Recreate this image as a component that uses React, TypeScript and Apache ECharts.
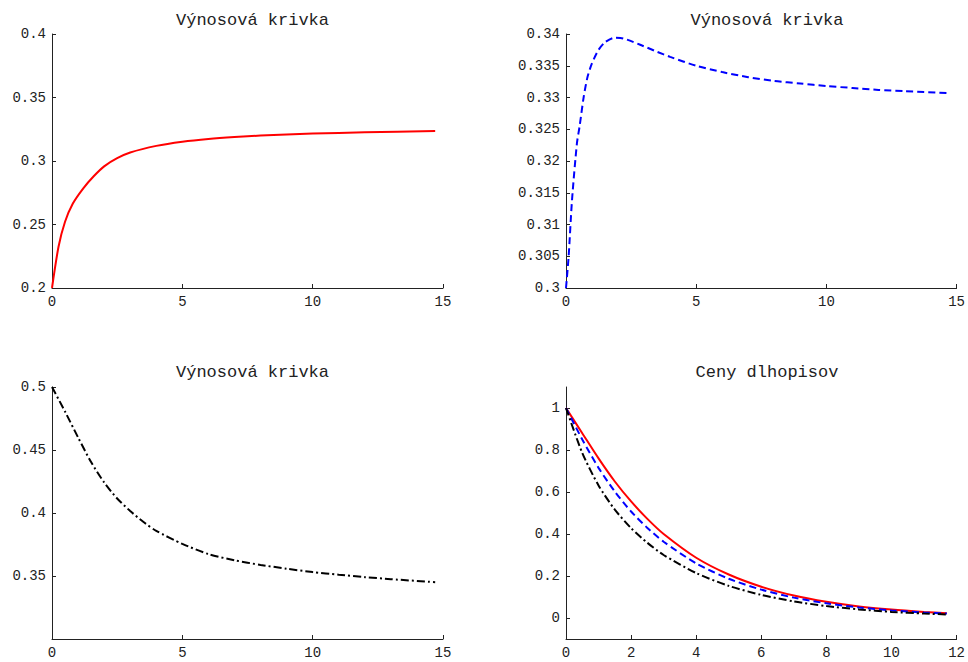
import React, { useEffect, useRef } from "react";
import * as echarts from "echarts";

// Yield curve 1 (red, solid)
const t1 = [0, 0.25, 0.5, 0.8, 1.2, 1.6, 2, 2.5, 3, 4, 5, 6, 7, 8, 10, 12, 14.7];
const y1 = [0.2, 0.2325, 0.2522, 0.2665, 0.2785, 0.288, 0.2958, 0.3022, 0.3067, 0.3119, 0.3152, 0.3174, 0.3189, 0.32, 0.3216, 0.3226, 0.3237];

// Yield curve 2 (blue, dashed)
const t2 = [0, 0.1, 0.23, 0.42, 0.52, 0.68, 0.83, 1, 1.25, 1.5, 1.85, 2.2, 2.85, 3.5, 4, 5, 6, 7, 8, 9, 10, 11, 12, 13, 14.7];
const y2 = [0.3, 0.3049, 0.3138, 0.3228, 0.3254, 0.3301, 0.3333, 0.3354, 0.3375, 0.3387, 0.3394, 0.3393, 0.3383, 0.3372, 0.3364, 0.335, 0.334, 0.3332, 0.3326, 0.3322, 0.3318, 0.3315, 0.3312, 0.331, 0.3307];

// Yield curve 3 (black, dash-dot)
const t3 = [0, 0.5, 1, 1.5, 2, 2.5, 3, 3.5, 4, 5, 6, 7, 8, 9, 10, 11, 12, 13, 14.7];
const y3 = [0.5, 0.4805, 0.46, 0.4404, 0.4243, 0.4115, 0.4016, 0.393, 0.3858, 0.3755, 0.3674, 0.3625, 0.3588, 0.3558, 0.3531, 0.351, 0.3491, 0.3475, 0.3451];

// Bond prices
const tp = [0, 0.5, 1, 1.5, 2, 2.5, 3, 4, 5, 6, 7, 8, 9, 10, 11, 11.7];
const pRed = [1, 0.88, 0.76, 0.65, 0.555, 0.472, 0.4, 0.287, 0.207, 0.149, 0.107, 0.077, 0.055, 0.04, 0.029, 0.023];
const pBlue = [1, 0.85, 0.715, 0.602, 0.507, 0.429, 0.363, 0.26, 0.187, 0.135, 0.097, 0.07, 0.0504, 0.036, 0.026, 0.021];
const pBlack = [1, 0.786, 0.631, 0.516, 0.428, 0.358, 0.3, 0.214, 0.153, 0.11, 0.079, 0.057, 0.041, 0.029, 0.021, 0.017];

const titles = ["Výnosová krivka", "Výnosová krivka", "Výnosová krivka", "Ceny dlhopisov"];

const FONT = "Liberation Mono";
const pair = (xs: number[], ys: number[]) => xs.map((x, i) => [x, ys[i]]);

export default function App() {
  const ref = useRef<HTMLDivElement>(null);
  useEffect(() => {
    const chart = echarts.init(ref.current!, null, { renderer: "svg" });
    const grids = [
      { left: 52, top: 34, width: 391, height: 254 },
      { left: 566, top: 34, width: 392, height: 254 },
      { left: 52, top: 387, width: 391, height: 252 },
      { left: 566, top: 387, width: 392, height: 252 },
    ];
    const axisLine = { show: true, onZero: false, lineStyle: { color: "#222", width: 1 } };
    const axisTick = { show: true, inside: true, length: 4, lineStyle: { color: "#222" } };
    const label = { color: "#222", fontFamily: FONT, fontSize: 14 };
    const mkX = (i: number, max: number, interval: number) => ({
      type: "value", gridIndex: i, min: 0, max, interval,
      axisLine, axisTick, splitLine: { show: false },
      axisLabel: { ...label, margin: 7 },
    });
    const mkY = (i: number, min: number, max: number, interval: number, custom?: number[]) => ({
      type: "value", gridIndex: i, min, max, interval,
      axisLine, splitLine: { show: false },
      axisTick: custom ? { ...axisTick, customValues: custom } : axisTick,
      axisLabel: custom ? { ...label, margin: 6, customValues: custom } : { ...label, margin: 6 },
    });
    const line = (xi: number, data: number[][], color: string, type: any) => ({
      type: "line", xAxisIndex: xi, yAxisIndex: xi, data, showSymbol: false, symbol: "none",
      smooth: 0.25,
      lineStyle: { color, width: 2, type },
    });
    chart.setOption({
      animation: false,
      backgroundColor: "#fff",
      title: titles.map((text, i) => ({
        text,
        left: grids[i].left + grids[i].width / 2,
        top: i < 2 ? 7 : 359,
        textAlign: "center",
        textStyle: { fontFamily: FONT, fontSize: 17, fontWeight: "normal", color: "#222" },
      })),
      grid: grids,
      xAxis: [mkX(0, 15, 5), mkX(1, 15, 5), mkX(2, 15, 5), mkX(3, 12, 2)],
      yAxis: [
        mkY(0, 0.2, 0.4, 0.05),
        mkY(1, 0.3, 0.34, 0.005),
        mkY(2, 0.3, 0.5, 0.05, [0.35, 0.4, 0.45, 0.5]),
        mkY(3, -0.1, 1.1, 0.2, [0, 0.2, 0.4, 0.6, 0.8, 1]),
      ],
      series: [
        line(0, pair(t1, y1), "#ff0000", "solid"),
        line(1, pair(t2, y2), "#0000ff", [7, 4]),
        line(2, pair(t3, y3), "#000000", [8, 3, 2, 3]),
        line(3, pair(tp, pRed), "#ff0000", "solid"),
        line(3, pair(tp, pBlue), "#0000ff", [7, 4]),
        line(3, pair(tp, pBlack), "#000000", [8, 3, 2, 3]),
      ],
    });
    return () => chart.dispose();
  }, []);
  return (
    <div
      ref={ref}
      style={{ position: "fixed", left: 0, top: 0, width: 968, height: 662, background: "#fff" }}
    />
  );
}
